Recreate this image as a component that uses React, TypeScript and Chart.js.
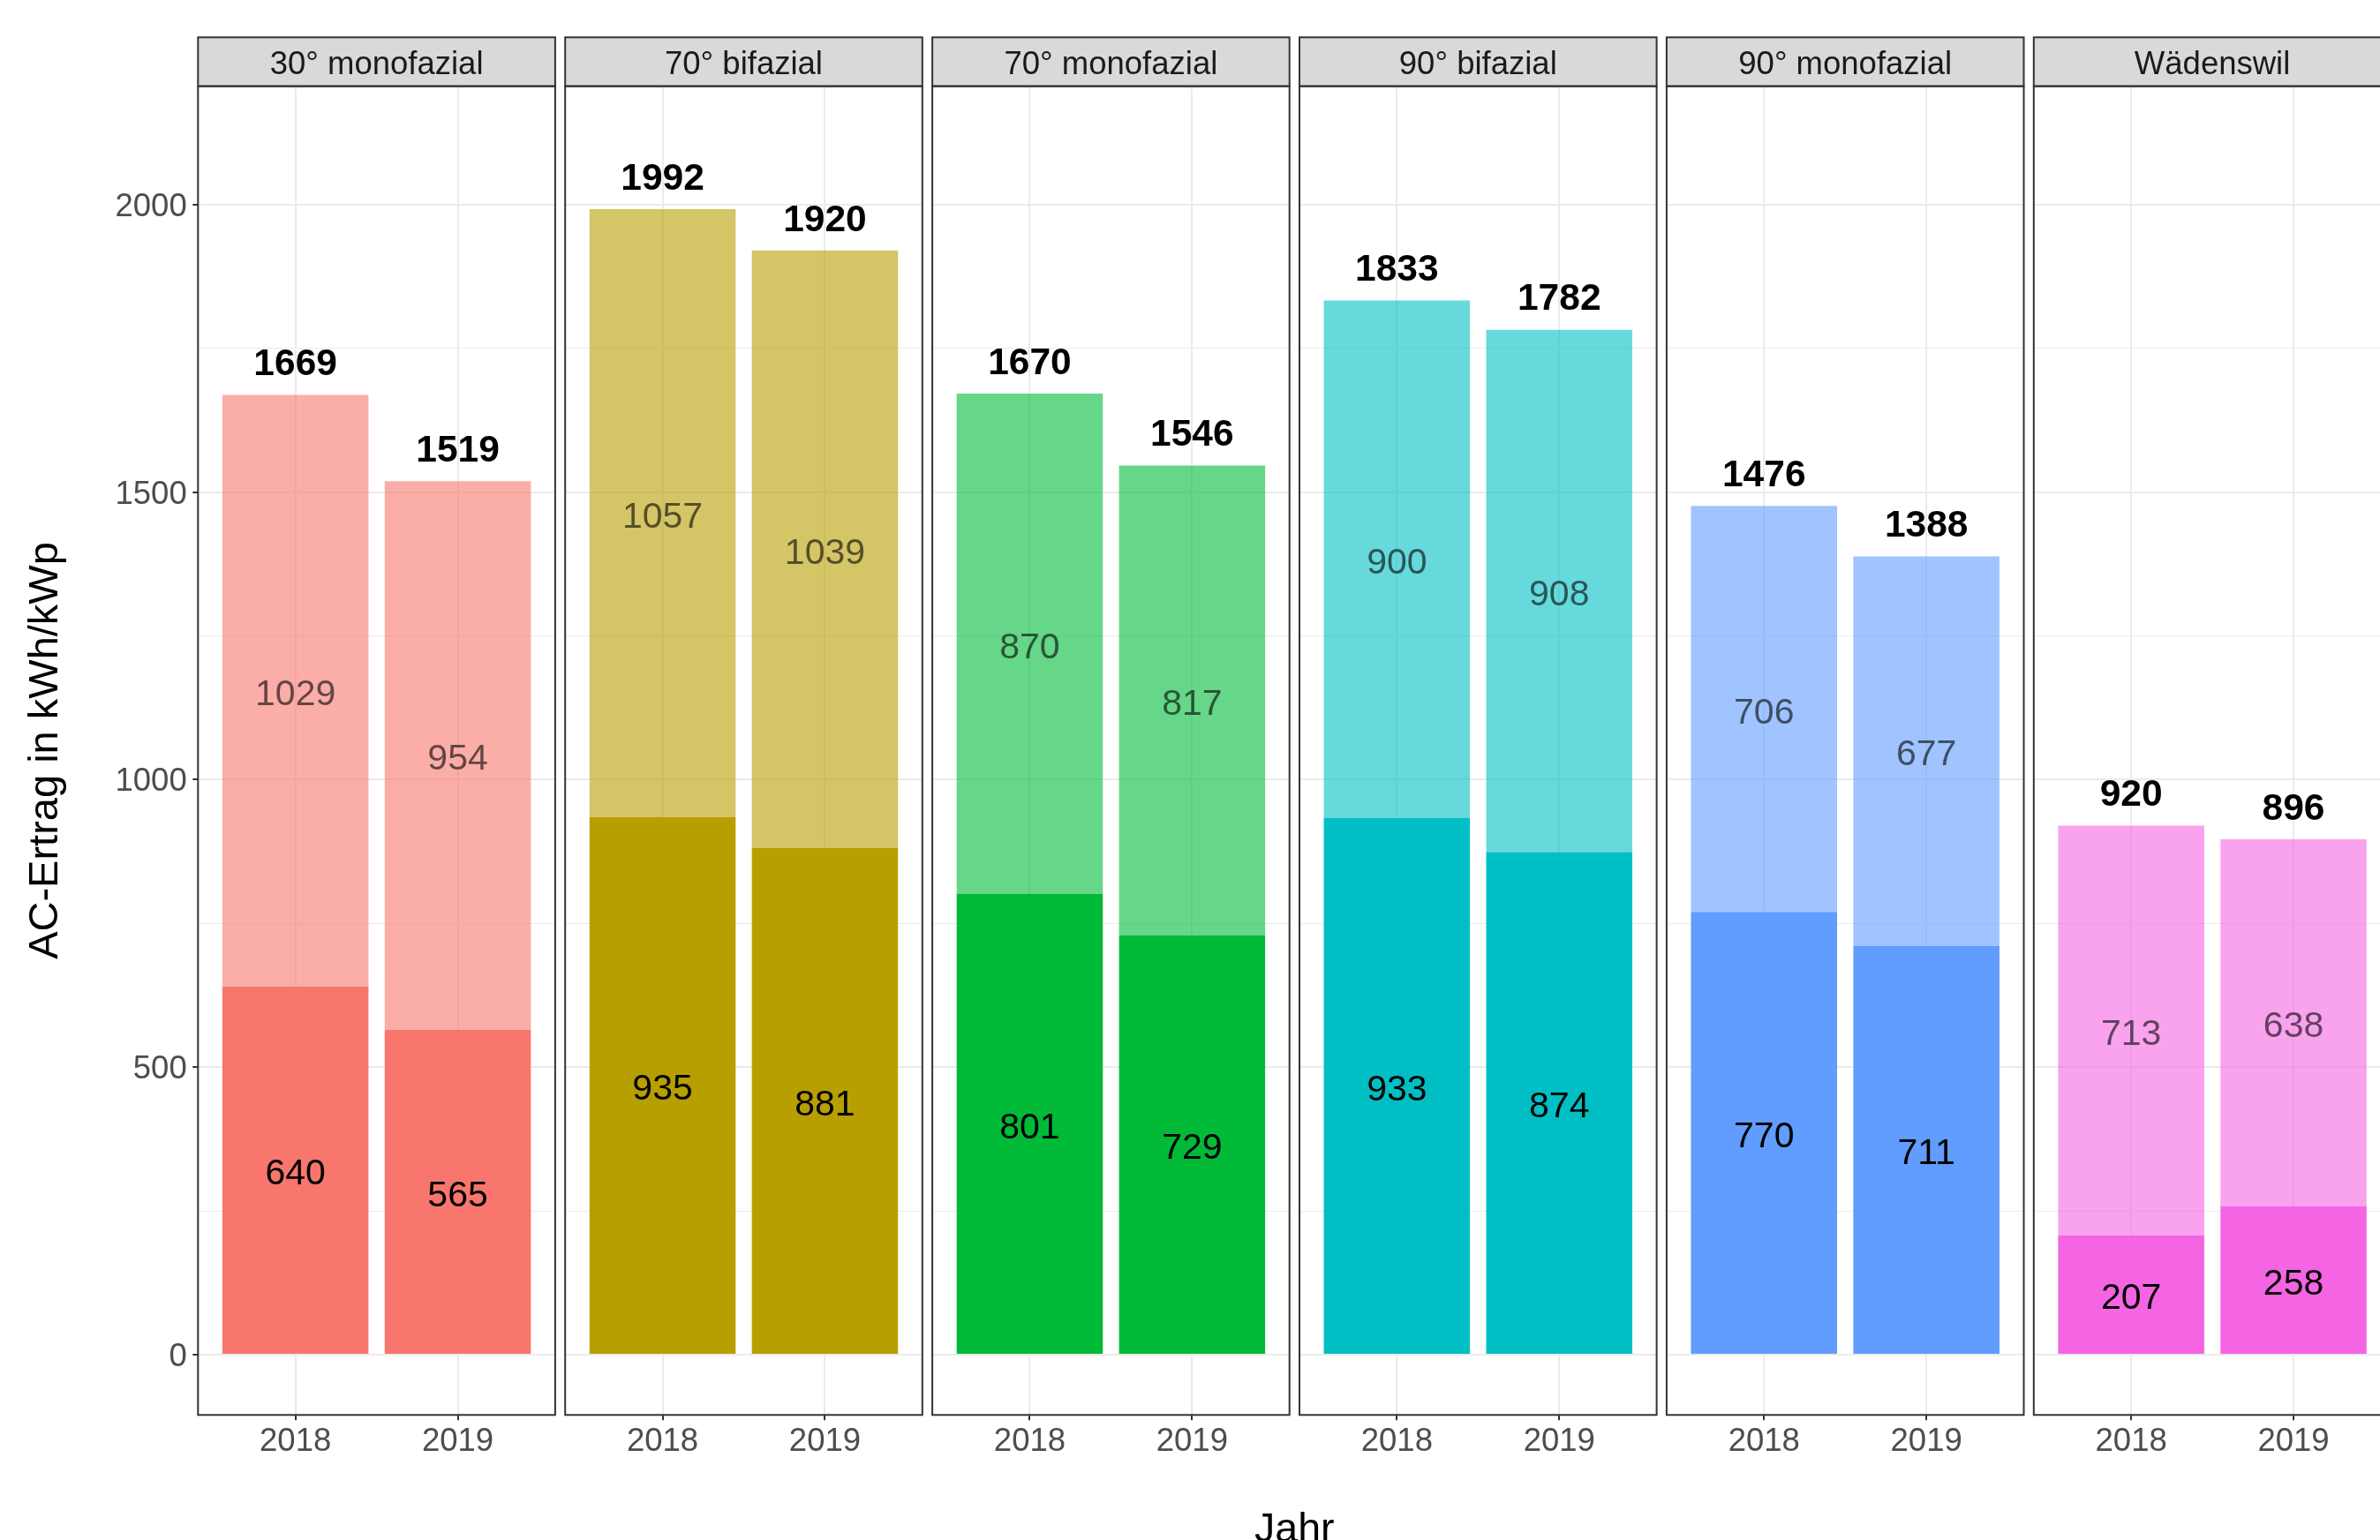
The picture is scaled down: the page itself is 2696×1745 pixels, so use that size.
import React, { useEffect, useRef } from 'react';
import { Chart, registerables } from 'chart.js';
Chart.register(...registerables);

// ---------- data ----------
const panels = ['30° monofazial', '70° bifazial', '70° monofazial', '90° bifazial', '90° monofazial', 'Wädenswil'];
const years = ['2018', '2019'];
const lowerValues = [[640, 565], [935, 881], [801, 729], [933, 874], [770, 711], [207, 258]];
const upperValues = [[1029, 954], [1057, 1039], [870, 817], [900, 908], [706, 677], [713, 638]];
const totalLabels = [[1669, 1519], [1992, 1920], [1670, 1546], [1833, 1782], [1476, 1388], [920, 896]];
const yMajorTicks = [0, 500, 1000, 1500, 2000];
const yMinorTicks = [250, 750, 1250, 1750];
const panelColors = ['#F8766D', '#B79F00', '#00BA38', '#00BFC4', '#619CFF', '#F564E3'];
const yTitle = 'AC-Ertrag in kWh/kWp';
const xTitle = 'Jahr';

// ---------- layout ----------
const FONT = '"Liberation Sans", Arial, Helvetica, sans-serif';
const W = 2720;
const H = 1745;
const PANEL_LEFT0 = 224.3;
const PANEL_PITCH = 415.9;
const PANEL_W = 404.6;
const STRIP_TOP = 42.3;
const PANEL_TOP = 97.7;
const PANEL_BOTTOM = 1603.3;
const Y_MIN = -104.8;
const Y_MAX = 2205.6;

function rgba(hex: string, a: number) {
  const n = parseInt(hex.slice(1), 16);
  return `rgba(${(n >> 16) & 255},${(n >> 8) & 255},${n & 255},${a})`;
}

function panelLeft(i: number) {
  return PANEL_LEFT0 + PANEL_PITCH * i;
}

function makeConfig(i: number): any {
  const color = panelColors[i];
  const left = panelLeft(i);
  const right = left + PANEL_W;
  const allY = [...yMajorTicks, ...yMinorTicks].sort((a, b) => a - b);

  const decorPlugin = {
    id: 'decor' + i,
    afterDatasetsDraw(chart: any) {
      const ctx = chart.ctx;
      ctx.save();
      ctx.textAlign = 'center';
      ctx.textBaseline = 'middle';
      chart.data.datasets.forEach((ds: any, d: number) => {
        const meta = chart.getDatasetMeta(d);
        meta.data.forEach((bar: any, j: number) => {
          const p = bar.getProps(['x', 'y', 'base'], true);
          ctx.font = `41px ${FONT}`;
          ctx.fillStyle = d === 0 ? '#000000' : 'rgba(0,0,0,0.6)';
          ctx.fillText(String(ds.data[j].y), p.x, (p.y + p.base) / 2 + 5);
        });
      });
      const topMeta = chart.getDatasetMeta(1);
      topMeta.data.forEach((bar: any, j: number) => {
        const p = bar.getProps(['x', 'y'], true);
        ctx.font = `bold 42.5px ${FONT}`;
        ctx.fillStyle = '#000000';
        ctx.fillText(String(totalLabels[i][j]), p.x, p.y - 34);
      });
      ctx.restore();
    },
    afterDraw(chart: any) {
      const ctx = chart.ctx;
      const ca = chart.chartArea;
      ctx.save();
      // strip
      ctx.fillStyle = '#D9D9D9';
      ctx.fillRect(ca.left, STRIP_TOP, ca.right - ca.left, ca.top - STRIP_TOP);
      ctx.strokeStyle = '#333333';
      ctx.lineWidth = 2;
      ctx.strokeRect(ca.left, STRIP_TOP, ca.right - ca.left, ca.top - STRIP_TOP);
      ctx.fillStyle = '#1A1A1A';
      ctx.font = `36.5px ${FONT}`;
      ctx.textAlign = 'center';
      ctx.textBaseline = 'middle';
      ctx.fillText(panels[i], (ca.left + ca.right) / 2, (STRIP_TOP + ca.top) / 2 + 3.5);
      // panel border
      ctx.strokeRect(ca.left, ca.top, ca.right - ca.left, ca.bottom - ca.top);
      if (i === 0) {
        const center = (PANEL_LEFT0 + panelLeft(panels.length - 1) + PANEL_W) / 2;
        ctx.fillStyle = '#000000';
        ctx.font = `46.5px ${FONT}`;
        ctx.textBaseline = 'alphabetic';
        ctx.fillText(xTitle, center, 1747);
      }
      ctx.restore();
    },
  };

  return {
    type: 'bar',
    data: {
      datasets: [
        {
          label: 'lower',
          data: lowerValues[i].map((v, j) => ({ x: j, y: v })),
          backgroundColor: color,
          borderWidth: 0,
          stack: 's',
          barPercentage: 0.9,
          categoryPercentage: 1,
        },
        {
          label: 'upper',
          data: upperValues[i].map((v, j) => ({ x: j, y: v })),
          backgroundColor: rgba(color, 0.6),
          borderWidth: 0,
          stack: 's',
          barPercentage: 0.9,
          categoryPercentage: 1,
        },
      ],
    },
    options: {
      responsive: false,
      animation: false,
      devicePixelRatio: 1,
      layout: {
        padding: { left: i === 0 ? 0 : left, right: W - right, top: PANEL_TOP, bottom: 0 },
      },
      plugins: { legend: { display: false }, tooltip: { enabled: false } },
      scales: {
        x: {
          type: 'linear',
          min: -0.6,
          max: 1.6,
          offset: false,
          afterBuildTicks: (s: any) => {
            s.ticks = years.map((_, j) => ({ value: j }));
          },
          ticks: {
            callback: (_v: any, idx: number) => years[idx],
            font: { family: FONT, size: 36.5, lineHeight: 1 },
            color: '#4D4D4D',
            padding: 6.5,
            maxRotation: 0,
            autoSkip: false,
          },
          grid: {
            offset: false,
            color: '#EBEBEB',
            lineWidth: 2,
            drawTicks: true,
            tickLength: 6,
            tickColor: '#333333',
            tickWidth: 2,
          },
          border: { display: false },
          afterFit: (s: any) => {
            s.height = H - PANEL_BOTTOM;
          },
        },
        y: {
          type: 'linear',
          min: Y_MIN,
          max: Y_MAX,
          stacked: true,
          afterBuildTicks: (s: any) => {
            s.ticks = allY.map((v) => ({ value: v }));
          },
          ticks: {
            display: i === 0,
            autoSkip: false,
            callback: (v: any) => (yMajorTicks.includes(v) ? String(v) : ''),
            font: { family: FONT, size: 36.5 },
            color: '#4D4D4D',
            padding: 6.6,
            labelOffset: 3,
          },
          grid: {
            color: '#EBEBEB',
            lineWidth: (c: any) => (c.tick && yMajorTicks.includes(c.tick.value) ? 2 : 1),
            drawTicks: i === 0,
            tickLength: 6,
            tickWidth: 2,
            tickColor: (c: any) => (c.tick && yMajorTicks.includes(c.tick.value) ? '#333333' : 'rgba(0,0,0,0)'),
          },
          border: { display: false },
          title: {
            display: i === 0,
            text: yTitle,
            color: '#000000',
            font: { family: FONT, size: 47 },
            padding: { top: 24, bottom: 0 },
          },
          afterFit: (s: any) => {
            s.width = i === 0 ? PANEL_LEFT0 : 0;
          },
        },
      },
    },
    plugins: [decorPlugin],
  };
}

export default function App() {
  const refs = useRef<(HTMLCanvasElement | null)[]>([]);
  useEffect(() => {
    const charts = panels.map((_, i) => new Chart(refs.current[i] as HTMLCanvasElement, makeConfig(i)));
    return () => charts.forEach((c) => c.destroy());
  }, []);
  return (
    <div
      style={{
        position: 'absolute',
        left: 0,
        top: 0,
        width: 2696,
        height: 1745,
        overflow: 'hidden',
        background: '#ffffff',
      }}
    >
      {panels.map((p, i) => (
        <canvas
          key={p}
          ref={(el) => {
            refs.current[i] = el;
          }}
          width={W}
          height={H}
          style={{ position: 'absolute', left: 0, top: 0, width: W, height: H }}
        />
      ))}
    </div>
  );
}
